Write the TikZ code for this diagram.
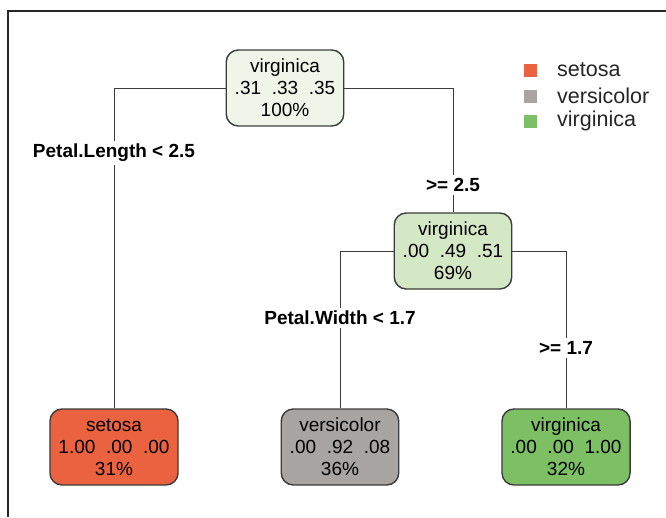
\documentclass[tikz,border=0pt]{standalone}
\usepackage{fontspec}
\setmainfont{Liberation Sans}
\definecolor{rootfill}{HTML}{EFF6E9}
\definecolor{midfill}{HTML}{D4E8C6}
\definecolor{setosac}{HTML}{EA623F}
\definecolor{versic}{HTML}{A8A4A1}
\definecolor{virgc}{HTML}{7DBF63}
\definecolor{edgec}{HTML}{3C3C3C}
\newcommand{\gapsp}{\hspace{0.56em}}
\begin{document}
\begin{tikzpicture}[x=1pt,y=-1pt,
  treenode/.style={draw=edgec, line width=1.4pt, rounded corners=12pt, align=center,
    minimum height=76pt, inner xsep=8.5pt, inner ysep=2pt,
    font=\fontsize{19}{22}\selectfont},
  conn/.style={draw=edgec, line width=1pt},
  splitlabel/.style={fill=white, inner xsep=2pt, inner ysep=3pt,
    font=\fontsize{19}{22}\selectfont\bfseries},
  legbox/.style={minimum size=13pt, inner sep=0pt},
  legtext/.style={anchor=west, inner sep=0pt, font=\fontsize{21.5}{24}\selectfont, text=black!85}
]
\useasboundingbox (0,0) rectangle (666,517);
\fill[white] (0,0) rectangle (666,517);
\draw[line width=1.5pt, black!85] (8,517) -- (8,11) -- (666,11);

\node[treenode, fill=rootfill] (root) at (285,88) {virginica\\.31\gapsp.33\gapsp.35\\100\%};
\node[treenode, fill=midfill] (mid) at (453,251) {virginica\\.00\gapsp.49\gapsp.51\\69\%};
\node[treenode, fill=setosac] (lf1) at (114,447) {setosa\\1.00\gapsp.00\gapsp.00\\31\%};
\node[treenode, fill=versic] (lf2) at (340,447) {versicolor\\.00\gapsp.92\gapsp.08\\36\%};
\node[treenode, fill=virgc] (lf3) at (566,447) {virginica\\.00\gapsp.00\gapsp1.00\\32\%};

\draw[conn] (root.west) -| (lf1.north);
\draw[conn] (root.east) -| (mid.north);
\draw[conn] (mid.west) -| (lf2.north);
\draw[conn] (mid.east) -| (lf3.north);

\node[splitlabel] (l1) at (114,153) {Petal.Length < 2.5};
\node[splitlabel] (l2) at (453,185) {>= 2.5};
\node[splitlabel] (l3) at (340,318) {Petal.Width < 1.7};
\node[splitlabel] (l4) at (566,348) {>= 1.7};

\node[legbox, fill=setosac] (k1) at (530,70) {};
\node[legbox, fill=versic] (k2) at (530,96) {};
\node[legbox, fill=virgc] (k3) at (530,121) {};
\node[legtext] (t1) at (557,70) {setosa};
\node[legtext] (t2) at (557,96) {versicolor};
\node[legtext] (t3) at (557,121) {virginica};
\end{tikzpicture}
\end{document}
